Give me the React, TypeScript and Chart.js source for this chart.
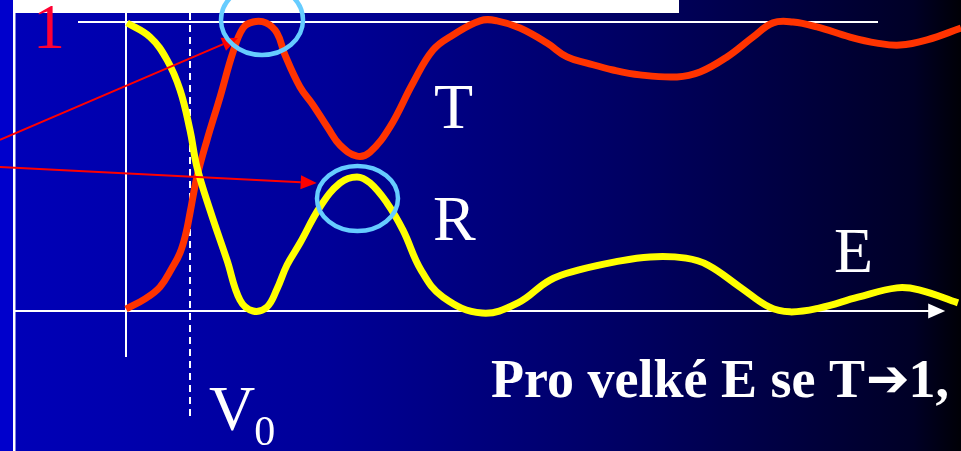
import { useEffect, useRef } from "react";
import { Chart, registerables } from "chart.js";

Chart.register(...registerables);

// Energy axis (units of V0) and transmission coefficient T
const E_T = [0, 0.297, 0.531, 0.719, 0.844, 0.938, 1.0, 1.109, 1.266, 1.469, 1.672, 1.828, 1.984, 2.188, 2.359, 2.484, 2.719, 2.922, 3.156, 3.344, 3.609, 3.813, 4.125, 4.484, 4.797, 5.109, 5.531, 5.797, 6.156, 6.578, 6.891, 7.203, 7.609, 8.031, 8.609, 8.969, 9.391, 9.797, 10.109, 10.422, 10.797, 11.313, 11.734, 12.094, 12.516, 13.047];
const T_VALUES = [0.007, 0.042, 0.083, 0.149, 0.201, 0.27, 0.339, 0.464, 0.592, 0.74, 0.896, 0.979, 1.0, 0.997, 0.962, 0.886, 0.775, 0.713, 0.633, 0.574, 0.536, 0.55, 0.637, 0.789, 0.903, 0.955, 1.004, 1.004, 0.979, 0.927, 0.879, 0.858, 0.834, 0.817, 0.81, 0.827, 0.879, 0.948, 0.997, 1.0, 0.983, 0.948, 0.927, 0.92, 0.938, 0.979];

// Energy axis and reflection coefficient R
const E_R = [0.016, 0.375, 0.641, 0.844, 1.0, 1.109, 1.313, 1.578, 1.781, 1.984, 2.203, 2.359, 2.516, 2.719, 3.031, 3.344, 3.609, 3.813, 4.078, 4.328, 4.609, 4.953, 5.563, 6.125, 6.625, 7.078, 7.641, 8.188, 8.75, 9.094, 9.594, 10.047, 10.375, 10.828, 11.438, 12.047, 12.391, 13.0];
const R_VALUES = [0.997, 0.948, 0.869, 0.765, 0.626, 0.498, 0.349, 0.176, 0.038, 0.0, 0.014, 0.076, 0.159, 0.235, 0.36, 0.443, 0.464, 0.443, 0.374, 0.28, 0.142, 0.048, -0.007, 0.028, 0.107, 0.142, 0.17, 0.187, 0.183, 0.159, 0.083, 0.014, -0.003, 0.01, 0.048, 0.08, 0.073, 0.028];

// Axis ranges
const X_RANGE = [-1.96875, 13.046875];
const Y_RANGE = [-0.4844, 1.0761];

// Annotation arrows: [fromE, fromV, toE, toV]
const ARROWS = [
  [-1.97, 0.592, 1.75, 0.945],
  [-1.97, 0.498, 2.98, 0.443],
];
// Highlight ellipses: [centreE, centreV]
const ELLIPSES = [
  [2.125, 1.007],
  [3.617, 0.389],
];
// Text labels: [text, E, V]
const LABELS: [string, number, number][] = [
  ["T", 4.8125, 0.633],
  ["R", 4.797, 0.2457],
  ["E", 11.0625, 0.135],
];
const ONE_LABEL: [string, number, number] = ["1", -1.453, 0.91];
const V0_LABEL: [string, string, number, number] = ["V", "0", 1.297, -0.412];
const NOTE: [string, string, string, number, number] = ["Pro velké E se T", "➔", "1,", 5.703, -0.2976];

const slidePlugin = {
  id: "slide",
  beforeDraw(chart: any) {
    const { ctx, width, height } = chart;
    const xs = chart.scales.x;
    const ys = chart.scales.y;
    const px = (e: number) => xs.getPixelForValue(e);
    const py = (v: number) => ys.getPixelForValue(v);
    ctx.save();
    ctx.fillStyle = "#0000CC";
    ctx.fillRect(0, 0, width, height);
    const g = ctx.createLinearGradient(14, 0, width, 0);
    g.addColorStop(0, "rgb(0,0,184)");
    g.addColorStop(0.33, "rgb(0,0,152)");
    g.addColorStop(0.65, "rgb(0,0,98)");
    g.addColorStop(0.95, "rgb(0,0,38)");
    g.addColorStop(1, "rgb(0,0,6)");
    ctx.fillStyle = g;
    ctx.fillRect(14, 0, width - 14, height);
    // slide frame
    ctx.fillStyle = "#ffffff";
    ctx.fillRect(13, 0, 666, 13);
    ctx.fillRect(13, 13, 2.5, height);

    ctx.strokeStyle = "#ffffff";
    ctx.lineWidth = 2;
    // T = 1 level
    ctx.beginPath();
    ctx.moveTo(px(-0.75), py(1));
    ctx.lineTo(px(11.75), py(1));
    ctx.stroke();
    // vertical axis
    ctx.beginPath();
    ctx.moveTo(px(0), 13);
    ctx.lineTo(px(0), py(-0.159));
    ctx.stroke();
    // horizontal axis with arrow
    const axEnd = px(12.55);
    ctx.beginPath();
    ctx.moveTo(14, py(0));
    ctx.lineTo(axEnd, py(0));
    ctx.stroke();
    ctx.fillStyle = "#ffffff";
    ctx.beginPath();
    ctx.moveTo(axEnd - 1, py(0) - 7.5);
    ctx.lineTo(axEnd + 16, py(0));
    ctx.lineTo(axEnd - 1, py(0) + 7.5);
    ctx.closePath();
    ctx.fill();
    // V0 dashed line
    ctx.setLineDash([7, 5]);
    ctx.beginPath();
    ctx.moveTo(px(1), 13);
    ctx.lineTo(px(1), py(-0.37));
    ctx.stroke();
    ctx.setLineDash([]);
    ctx.restore();
  },
  afterDatasetsDraw(chart: any) {
    const { ctx } = chart;
    const xs = chart.scales.x;
    const ys = chart.scales.y;
    const px = (e: number) => xs.getPixelForValue(e);
    const py = (v: number) => ys.getPixelForValue(v);
    ctx.save();
    // arrows
    ctx.strokeStyle = "#FF0000";
    ctx.fillStyle = "#FF0000";
    ctx.lineWidth = 2;
    for (const [e0, v0, e1, v1] of ARROWS) {
      const x0 = px(e0), y0 = py(v0), x1 = px(e1), y1 = py(v1);
      const ang = Math.atan2(y1 - y0, x1 - x0);
      const len = 16, half = 7;
      const bx = x1 - len * Math.cos(ang), by = y1 - len * Math.sin(ang);
      ctx.beginPath();
      ctx.moveTo(x0, y0);
      ctx.lineTo(bx, by);
      ctx.stroke();
      ctx.beginPath();
      ctx.moveTo(x1, y1);
      ctx.lineTo(bx + half * Math.sin(ang), by - half * Math.cos(ang));
      ctx.lineTo(bx - half * Math.sin(ang), by + half * Math.cos(ang));
      ctx.closePath();
      ctx.fill();
    }
    // ellipses
    ctx.strokeStyle = "#66CCFF";
    ctx.lineWidth = 4.5;
    const radii = [[41, 35], [40.5, 32.5]];
    ELLIPSES.forEach(([e, v], i) => {
      ctx.beginPath();
      ctx.ellipse(px(e), py(v), radii[i][0], radii[i][1], 0, 0, Math.PI * 2);
      ctx.stroke();
    });
    // labels
    ctx.textBaseline = "alphabetic";
    ctx.textAlign = "left";
    ctx.fillStyle = "#ffffff";
    ctx.font = '64px "Liberation Serif", serif';
    for (const [t, e, v] of LABELS) ctx.fillText(t, px(e), py(v));
    ctx.fillText(V0_LABEL[0], px(V0_LABEL[2]), py(V0_LABEL[3]));
    const vw = ctx.measureText(V0_LABEL[0]).width;
    ctx.font = '42px "Liberation Serif", serif';
    ctx.fillText(V0_LABEL[1], px(V0_LABEL[2]) + vw - 1, py(V0_LABEL[3]) + 15);
    ctx.fillStyle = "#FF0033";
    ctx.font = '64px "Liberation Serif", serif';
    ctx.fillText(ONE_LABEL[0], px(ONE_LABEL[1]), py(ONE_LABEL[2]));
    // note
    ctx.fillStyle = "#ffffff";
    let nx = px(NOTE[3]);
    const ny = py(NOTE[4]);
    ctx.font = 'bold 54px "Liberation Serif", serif';
    ctx.fillText(NOTE[0], nx, ny);
    nx += ctx.measureText(NOTE[0]).width;
    ctx.font = 'bold 52px "DejaVu Sans", sans-serif';
    ctx.fillText(NOTE[1], nx + 1, ny - 1);
    nx += ctx.measureText(NOTE[1]).width;
    ctx.font = 'bold 54px "Liberation Serif", serif';
    ctx.fillText(NOTE[2], nx, ny);
    ctx.restore();
  },
};

export default function App() {
  const ref = useRef<HTMLCanvasElement | null>(null);
  useEffect(() => {
    if (!ref.current) return;
    const chart = new Chart(ref.current, {
      type: "line",
      data: {
        datasets: [
          {
            label: "T",
            data: E_T.map((e, i) => ({ x: e, y: T_VALUES[i] })),
            borderColor: "#FF3300",
            borderWidth: 7,
            pointRadius: 0,
            tension: 0.4,
            borderJoinStyle: "round",
            order: 2,
          },
          {
            label: "R",
            data: E_R.map((e, i) => ({ x: e, y: R_VALUES[i] })),
            borderColor: "#FFFF00",
            borderWidth: 7,
            pointRadius: 0,
            tension: 0.4,
            borderJoinStyle: "round",
            order: 1,
          },
        ],
      },
      options: {
        animation: false,
        responsive: false,
        layout: { padding: 0 },
        plugins: { legend: { display: false }, tooltip: { enabled: false } },
        scales: {
          x: { type: "linear", display: false, min: X_RANGE[0], max: X_RANGE[1] },
          y: { type: "linear", display: false, min: Y_RANGE[0], max: Y_RANGE[1] },
        },
      },
      plugins: [slidePlugin],
    } as any);
    return () => chart.destroy();
  }, []);
  return (
    <div style={{ position: "fixed", left: 0, top: 0, width: 961, height: 451 }}>
      <canvas ref={ref} width={961} height={451} style={{ display: "block" }} />
    </div>
  );
}
